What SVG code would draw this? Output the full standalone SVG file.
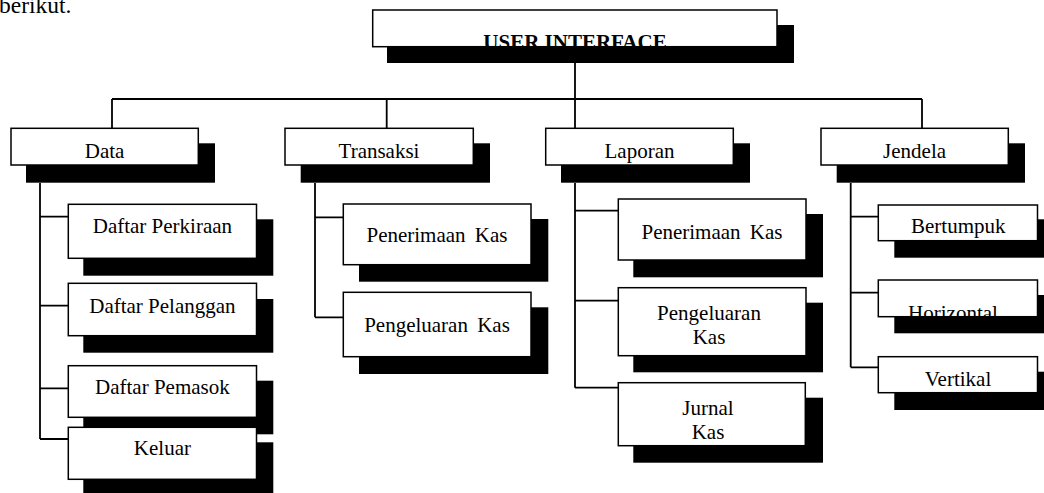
<svg xmlns="http://www.w3.org/2000/svg" width="1044" height="493" viewBox="0 0 1044 493">
<style>
.sh{fill:#000}
.bx{fill:#fff;stroke:#000;stroke-width:1.5}
.t{font-family:"Liberation Serif","Times New Roman",serif;font-size:21px;fill:#000;text-anchor:middle}
.tb{font-weight:bold}
.c{fill:none;stroke:#000;stroke-width:1.8}
</style>
<rect width="1044" height="493" fill="#fff"/>
<text x="-1" y="13" font-family="Liberation Serif, serif" font-size="23.5" fill="#000">berikut.</text>
<g id="connectors">
<path class="c" d="M575,63 V99 M112,99 H922 M112,99 V128 M386.7,99 V128 M575,99 V128 M922,99 V128"/>
<path class="c" d="M40,183 V439 M40,216.7 H68 M40,305.7 H68 M40,388.3 H68 M40,439 H68"/>
<path class="c" d="M315,183 V317.3 M315,217.3 H343 M315,317.3 H343"/>
<path class="c" d="M575,183 V387.7 M575,210.7 H618 M575,300.7 H618 M575,387.7 H618"/>
<path class="c" d="M850.7,183 V367.3 M850.7,216.7 H878 M850.7,292.7 H878 M850.7,367.3 H878"/>
</g>
<g id="user-interface">
<rect class="sh" x="387" y="25" width="407" height="38"/>
<rect class="bx" x="372.7" y="10" width="404.3" height="36.7"/>
<text class="t tb" x="575" y="48.5">USER INTERFACE</text>
</g>
<g id="data">
<rect class="sh" x="26" y="143.3" width="189" height="39.4"/>
<rect class="bx" x="11" y="128.3" width="187.3" height="36.7"/>
<text class="t" x="104.6" y="157.7">Data</text>
</g>
<g id="transaksi">
<rect class="sh" x="300.7" y="143.3" width="189.3" height="39.4"/>
<rect class="bx" x="285" y="128.3" width="188.3" height="36.7"/>
<text class="t" x="379" y="157.7">Transaksi</text>
</g>
<g id="laporan">
<rect class="sh" x="561" y="143.3" width="189" height="39.4"/>
<rect class="bx" x="545.7" y="128.3" width="187.6" height="36.7"/>
<text class="t" x="639.5" y="157.7">Laporan</text>
</g>
<g id="jendela">
<rect class="sh" x="836.7" y="143.3" width="188.3" height="39.4"/>
<rect class="bx" x="821" y="128.3" width="187.3" height="36.7"/>
<text class="t" x="914.6" y="157.7">Jendela</text>
</g>
<g id="daftar-perkiraan">
<rect class="sh" x="83.3" y="219.3" width="190" height="56.4"/>
<rect class="bx" x="68.3" y="204.3" width="188.2" height="54"/>
<text class="t" x="162.4" y="233.3">Daftar Perkiraan</text>
</g>
<g id="daftar-pelanggan">
<rect class="sh" x="83.3" y="299" width="190" height="53.7"/>
<rect class="bx" x="68.3" y="283.3" width="188.2" height="52.4"/>
<text class="t" x="162.4" y="312.7">Daftar Pelanggan</text>
</g>
<g id="daftar-pemasok">
<rect class="sh" x="83.3" y="380.7" width="190" height="53.6"/>
<rect class="bx" x="68.3" y="365.7" width="188.2" height="51.6"/>
<text class="t" x="162.4" y="394.3">Daftar Pemasok</text>
</g>
<g id="keluar">
<rect class="sh" x="83.3" y="442.3" width="190" height="52"/>
<rect class="bx" x="68.3" y="427.3" width="188.2" height="52"/>
<text class="t" x="162.4" y="455">Keluar</text>
</g>
<g id="transaksi-penerimaan-kas">
<rect class="sh" x="359" y="219" width="189.3" height="62.7"/>
<rect class="bx" x="343.3" y="204" width="187.7" height="60.7"/>
<text class="t" x="437" y="242.3" word-spacing="4">Penerimaan Kas</text>
</g>
<g id="transaksi-pengeluaran-kas">
<rect class="sh" x="359" y="307.3" width="189.3" height="66.7"/>
<rect class="bx" x="343.3" y="292.3" width="187.7" height="64.4"/>
<text class="t" x="437" y="331.7" word-spacing="4">Pengeluaran Kas</text>
</g>
<g id="laporan-penerimaan-kas">
<rect class="sh" x="633.3" y="214" width="189.7" height="63.3"/>
<rect class="bx" x="618.3" y="199" width="187.7" height="61"/>
<text class="t" x="712" y="239" word-spacing="4">Penerimaan Kas</text>
</g>
<g id="laporan-pengeluaran-kas">
<rect class="sh" x="633.3" y="302.7" width="189.7" height="69.6"/>
<rect class="bx" x="618.3" y="287.7" width="187.7" height="68"/>
<text class="t" x="709" y="320">Pengeluaran</text>
<text class="t" x="709" y="344.3">Kas</text>
</g>
<g id="jurnal-kas">
<rect class="sh" x="633.3" y="397.7" width="189.7" height="65"/>
<rect class="bx" x="618.3" y="382.7" width="187" height="63"/>
<text class="t" x="708" y="415">Jurnal</text>
<text class="t" x="708" y="439.3">Kas</text>
</g>
<g id="bertumpuk">
<rect class="sh" x="894.3" y="219.3" width="170" height="38.4"/>
<rect class="bx" x="878.3" y="205" width="159.2" height="35.7"/>
<text class="t" x="958.3" y="233.3">Bertumpuk</text>
</g>
<g id="horizontal">
<rect class="sh" x="894.3" y="295" width="170" height="38.3"/>
<rect class="bx" x="878.3" y="280" width="159.2" height="36.7"/>
<text class="t" x="953" y="320">Horizontal</text>
</g>
<g id="vertikal">
<rect class="sh" x="894.3" y="371.7" width="170" height="38.3"/>
<rect class="bx" x="878.3" y="356.7" width="159.2" height="36"/>
<text class="t" x="958" y="386">Vertikal</text>
</g>
</svg>
